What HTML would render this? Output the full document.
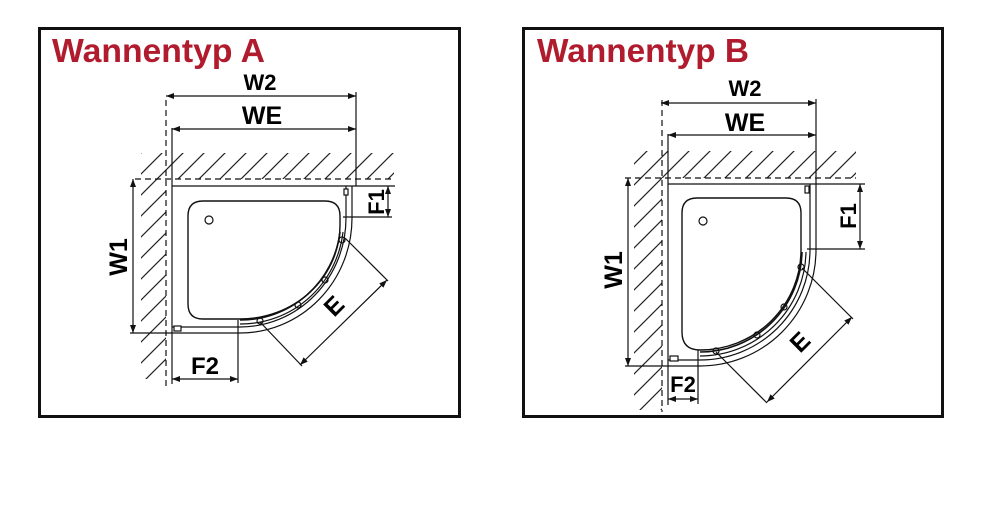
<!DOCTYPE html>
<html><head><meta charset="utf-8"><style>
body{margin:0;background:#fff;}
svg{display:block;}
text{font-family:"Liberation Sans",sans-serif;font-weight:bold;}
</style></head><body>
<svg width="984" height="511" viewBox="0 0 984 511" xmlns="http://www.w3.org/2000/svg">
<defs>
<pattern id="h" patternUnits="userSpaceOnUse" width="21" height="21">
<path d="M-2,23 L23,-2 M-2,2 L2,-2 M19,23 L23,19" stroke="#222" stroke-width="1.2"/>
</pattern>
<marker id="ar" markerWidth="8" markerHeight="6" refX="8" refY="3" orient="auto-start-reverse" markerUnits="userSpaceOnUse"><path d="M0,0 L8,3 L0,6 Z" fill="#111"/></marker>
</defs>
<rect width="984" height="511" fill="#fff"/>
<rect x="39.5" y="28.5" width="420" height="388" fill="none" stroke="#111" stroke-width="3"/>
<rect x="523.5" y="28.5" width="419" height="388" fill="none" stroke="#111" stroke-width="3"/>
<text x="52" y="62" font-size="33" fill="#b01c2e" textLength="213" lengthAdjust="spacingAndGlyphs">Wannentyp A</text>
<text x="537" y="62" font-size="33" fill="#b01c2e" textLength="212" lengthAdjust="spacingAndGlyphs">Wannentyp B</text>

<!-- ===== A ===== -->
<g stroke="#111" fill="none" stroke-width="1.2">
<rect x="141" y="153" width="253" height="26" fill="url(#h)" stroke="none"/>
<rect x="141" y="179" width="25" height="200" fill="url(#h)" stroke="none"/>
<rect x="166" y="179" width="228" height="7" fill="#fff" stroke="none"/>
<rect x="166" y="179" width="6" height="210" fill="#fff" stroke="none"/>
<line x1="135" y1="179" x2="395" y2="179" stroke-dasharray="6,4"/>
<line x1="166" y1="100" x2="166" y2="390" stroke-dasharray="6,4"/>
<line x1="172" y1="186" x2="395" y2="186"/>
<line x1="172" y1="128" x2="172" y2="384"/>
<line x1="356" y1="92" x2="356" y2="186"/>
<line x1="130" y1="333" x2="172" y2="333"/>
<line x1="166" y1="96" x2="356" y2="96" marker-start="url(#ar)" marker-end="url(#ar)"/>
<line x1="172" y1="129" x2="356" y2="129" marker-start="url(#ar)" marker-end="url(#ar)"/>
<line x1="133" y1="179" x2="133" y2="333" marker-start="url(#ar)" marker-end="url(#ar)"/>
<line x1="388" y1="186" x2="388" y2="217" marker-start="url(#ar)" marker-end="url(#ar)"/>
<line x1="343" y1="217" x2="392" y2="217"/>
<line x1="172" y1="379" x2="238" y2="379" marker-start="url(#ar)" marker-end="url(#ar)"/>
<line x1="238" y1="320" x2="238" y2="383"/>
<line x1="300" y1="365" x2="387" y2="280" marker-start="url(#ar)" marker-end="url(#ar)"/>
<line x1="260" y1="322" x2="302" y2="366"/>
<line x1="345" y1="238" x2="388" y2="281"/>
<path d="M203,201 H325 Q340,201 340,216 V225 A100,94 0 0 1 240,319 H203 Q188,319 188,304 V216 Q188,201 203,201 Z" stroke-width="1.4"/>
<circle cx="209" cy="220" r="4"/>
<path d="M352,186 V218 A112,115 0 0 1 240,333 H172"/>
<path d="M346,186 V218 A106,109 0 0 1 240,327 H172"/>
<path d="M343,232 A103,104 0 0 1 240,324" />
<path d="M340,232 A100,100 0 0 1 240,320" stroke-width="1.6"/>
<rect x="344" y="189" width="4" height="6" fill="#fff"/>
<rect x="174" y="326" width="7" height="5" fill="#fff"/>
<circle cx="342" cy="240" r="3"/><circle cx="325" cy="280" r="3"/><circle cx="298" cy="305" r="3"/><circle cx="260" cy="321" r="3"/>
</g>
<text x="260" y="90" font-size="22" text-anchor="middle">W2</text>
<text x="262" y="124" font-size="25" text-anchor="middle">WE</text>
<text x="205" y="374" font-size="24" text-anchor="middle">F2</text>
<text transform="translate(127,257) rotate(-90)" font-size="25" text-anchor="middle">W1</text>
<text transform="translate(384,202) rotate(-90)" font-size="22" text-anchor="middle">F1</text>
<text transform="translate(340,312) rotate(-45)" font-size="25" text-anchor="middle">E</text>

<!-- ===== B ===== -->
<g stroke="#111" fill="none" stroke-width="1.2">
<rect x="634" y="151" width="222" height="27" fill="url(#h)" stroke="none"/>
<rect x="634" y="178" width="28" height="232" fill="url(#h)" stroke="none"/>
<rect x="662" y="178" width="194" height="6" fill="#fff" stroke="none"/>
<rect x="662" y="178" width="6" height="235" fill="#fff" stroke="none"/>
<line x1="625" y1="178" x2="856" y2="178" stroke-dasharray="6,4"/>
<line x1="662" y1="100" x2="662" y2="412" stroke-dasharray="6,4"/>
<line x1="668" y1="184" x2="865" y2="184"/>
<line x1="668" y1="134" x2="668" y2="405"/>
<line x1="816" y1="99" x2="816" y2="184"/>
<line x1="625" y1="366" x2="668" y2="366"/>
<line x1="661" y1="103" x2="816" y2="103" marker-start="url(#ar)" marker-end="url(#ar)"/>
<line x1="668" y1="135" x2="816" y2="135" marker-start="url(#ar)" marker-end="url(#ar)"/>
<line x1="628" y1="178" x2="628" y2="366" marker-start="url(#ar)" marker-end="url(#ar)"/>
<line x1="860" y1="184" x2="860" y2="249" marker-start="url(#ar)" marker-end="url(#ar)"/>
<line x1="807" y1="249" x2="865" y2="249"/>
<line x1="668" y1="399" x2="698" y2="399" marker-start="url(#ar)" marker-end="url(#ar)"/>
<line x1="698" y1="350" x2="698" y2="404"/>
<line x1="767" y1="402" x2="852" y2="317" marker-start="url(#ar)" marker-end="url(#ar)"/>
<line x1="716" y1="352" x2="767" y2="403"/>
<line x1="802" y1="268" x2="853" y2="319"/>
<path d="M697,198 H786 Q801,198 801,213 V250 A101,100 0 0 1 700,350 Q682,350 682,332 V213 Q682,198 697,198 Z" stroke-width="1.4"/>
<circle cx="703" cy="221" r="4"/>
<path d="M816,184 V250 A116,116 0 0 1 700,366 H668"/>
<path d="M810,184 V250 A110,110 0 0 1 700,360 H668"/>
<path d="M806,252 A106,106 0 0 1 700,356"/>
<path d="M802,252 A102,102 0 0 1 700,352" stroke-width="1.6"/>
<rect x="805" y="186" width="4" height="7" fill="#fff"/>
<rect x="670" y="356" width="8" height="5" fill="#fff"/>
<circle cx="801" cy="267" r="3"/><circle cx="784" cy="307" r="3"/><circle cx="757" cy="335" r="3"/><circle cx="716" cy="351" r="3"/>
</g>
<text x="745" y="96" font-size="22" text-anchor="middle">W2</text>
<text x="745" y="131" font-size="25" text-anchor="middle">WE</text>
<text x="683" y="392" font-size="22" text-anchor="middle">F2</text>
<text transform="translate(622,270) rotate(-90)" font-size="25" text-anchor="middle">W1</text>
<text transform="translate(856,216) rotate(-90)" font-size="22" text-anchor="middle">F1</text>
<text transform="translate(806,348) rotate(-45)" font-size="25" text-anchor="middle">E</text>
</svg>
</body></html>
